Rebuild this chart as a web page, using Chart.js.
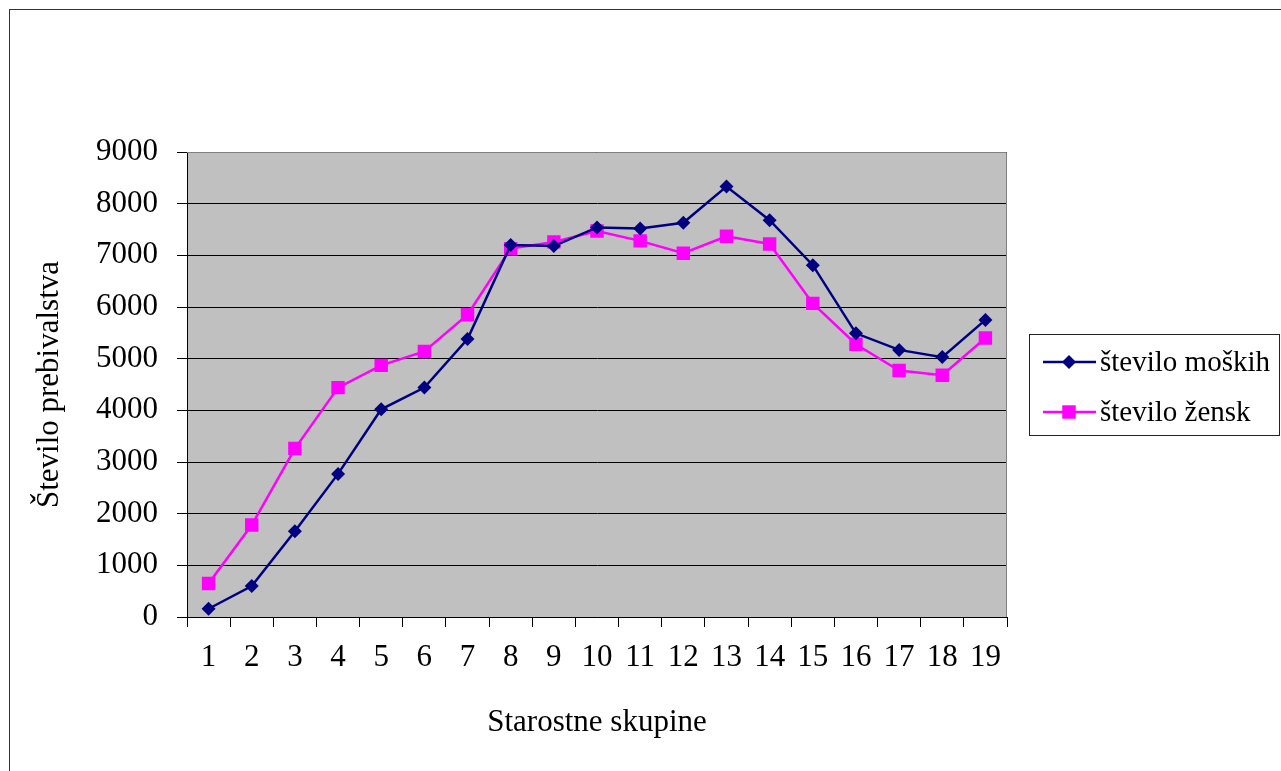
<!DOCTYPE html>
<html>
<head>
<meta charset="utf-8">
<title>Starostne skupine</title>
<script src="https://cdn.jsdelivr.net/npm/chart.js"></script>
<style>
  html, body { margin: 0; padding: 0; background: white; }
  #myChart { display: block; }
</style>
</head>
<body>
<canvas id="myChart" width="1281" height="771"></canvas>
<script>
// data
var categories = ['1', '2', '3', '4', '5', '6', '7', '8', '9', '10', '11', '12', '13', '14', '15', '16', '17', '18', '19'];
var moski = [160, 600, 1660, 2770, 4020, 4440, 5380, 7200, 7180, 7540, 7520, 7630, 8330, 7680, 6810, 5490, 5170, 5030, 5750];
var zenske = [650, 1780, 3260, 4440, 4870, 5140, 5850, 7130, 7260, 7470, 7280, 7040, 7370, 7220, 6070, 5280, 4770, 4680, 5400];
var yTicks = [0, 1000, 2000, 3000, 4000, 5000, 6000, 7000, 8000, 9000];

var serif = '"Liberation Serif", "Times New Roman", serif';

// grey plot background + outer frame
var backPlugin = {
    id: 'backPlugin',
    beforeDraw: function(chart) {
        var ctx = chart.ctx;
        var a = chart.chartArea;
        ctx.save();
        ctx.fillStyle = 'white';
        ctx.fillRect(0, 0, chart.width, chart.height);
        ctx.strokeStyle = '#333';
        ctx.lineWidth = 1;
        ctx.strokeRect(9.5, 9.5, 1400, 900);
        ctx.fillStyle = '#C0C0C0';
        ctx.fillRect(a.left, a.top, a.right - a.left, a.bottom - a.top);
        ctx.restore();
    },
    beforeDatasetsDraw: function(chart) {
        var ctx = chart.ctx;
        var a = chart.chartArea;
        ctx.save();
        ctx.strokeStyle = '#808080';
        ctx.lineWidth = 1;
        ctx.beginPath();
        ctx.moveTo(a.left, a.top + 0.5);
        ctx.lineTo(a.right - 0.5, a.top + 0.5);
        ctx.lineTo(a.right - 0.5, a.bottom);
        ctx.stroke();
        ctx.restore();
    }
};

// legend box on the right, built from the datasets
var legendPlugin = {
    id: 'legendPlugin',
    afterDraw: function(chart) {
        var ctx = chart.ctx;
        ctx.save();
        ctx.fillStyle = 'white';
        ctx.fillRect(1029.5, 334.5, 250, 101);
        ctx.strokeStyle = '#222';
        ctx.lineWidth = 1;
        ctx.strokeRect(1029.5, 334.5, 250, 101);

        var rows = [362, 412];
        chart.data.datasets.forEach(function(ds, i) {
            var y = rows[i];
            ctx.strokeStyle = ds.borderColor;
            ctx.lineWidth = ds.borderWidth;
            ctx.beginPath();
            ctx.moveTo(1043, y);
            ctx.lineTo(1096, y);
            ctx.stroke();

            ctx.fillStyle = ds.pointBackgroundColor;
            ctx.strokeStyle = ds.pointBorderColor;
            Chart.helpers.drawPoint(ctx, {
                pointStyle: ds.pointStyle,
                radius: ds.pointRadius,
                rotation: 0,
                borderWidth: 0
            }, 1069, y);

            ctx.fillStyle = 'black';
            ctx.font = '29px ' + serif;
            ctx.textBaseline = 'middle';
            ctx.textAlign = 'left';
            ctx.fillText(ds.label, 1100, y + 1);
        });
        ctx.restore();
    }
};

var ctx = document.getElementById('myChart').getContext('2d');
var chart = new Chart(ctx, {
    type: 'line',
    data: {
        labels: categories,
        datasets: [{
            label: 'število moških',
            data: moski,
            borderColor: '#000080',
            backgroundColor: '#000080',
            borderWidth: 2.5,
            pointStyle: 'rectRot',
            pointRadius: 7,
            pointBackgroundColor: '#000080',
            pointBorderColor: '#000080',
            pointBorderWidth: 0,
            tension: 0
        }, {
            label: 'število žensk',
            data: zenske,
            borderColor: '#FF00FF',
            backgroundColor: '#FF00FF',
            borderWidth: 2.5,
            pointStyle: 'rect',
            pointRadius: 9.5,
            pointBackgroundColor: '#FF00FF',
            pointBorderColor: '#FF00FF',
            pointBorderWidth: 0,
            tension: 0
        }]
    },
    options: {
        responsive: false,
        animation: false,
        devicePixelRatio: 1,
        layout: { padding: { left: 0, top: 152, right: 274, bottom: 0 } },
        plugins: {
            legend: { display: false },
            tooltip: { enabled: false }
        },
        scales: {
            x: {
                offset: true,
                afterFit: function(s) { s.height = 154; },
                grid: {
                    offset: true,
                    drawOnChartArea: false,
                    drawTicks: true,
                    tickLength: 10,
                    color: 'black'
                },
                border: { display: true, color: 'black', width: 1 },
                ticks: {
                    color: 'black',
                    padding: 12,
                    maxRotation: 0,
                    autoSkip: false,
                    font: { family: serif, size: 31 }
                },
                title: {
                    display: true,
                    text: 'Starostne skupine',
                    color: 'black',
                    padding: { top: 0, bottom: 30 },
                    font: { family: serif, size: 31 }
                }
            },
            y: {
                min: 0,
                max: 9000,
                afterFit: function(s) { s.width = 187; },
                afterBuildTicks: function(s) {
                    s.ticks = yTicks.map(function(v) { return { value: v }; });
                },
                grid: {
                    color: 'black',
                    lineWidth: 1,
                    drawTicks: true,
                    tickLength: 10
                },
                border: { display: true, color: 'black', width: 1 },
                ticks: {
                    color: 'black',
                    padding: 19,
                    font: { family: serif, size: 31 },
                    callback: function(v) { return String(v); }
                },
                title: {
                    display: true,
                    text: 'Število prebivalstva',
                    color: 'black',
                    padding: { top: 31, bottom: 0 },
                    font: { family: serif, size: 31 }
                }
            }
        }
    },
    plugins: [backPlugin, legendPlugin]
});
</script>
</body>
</html>
